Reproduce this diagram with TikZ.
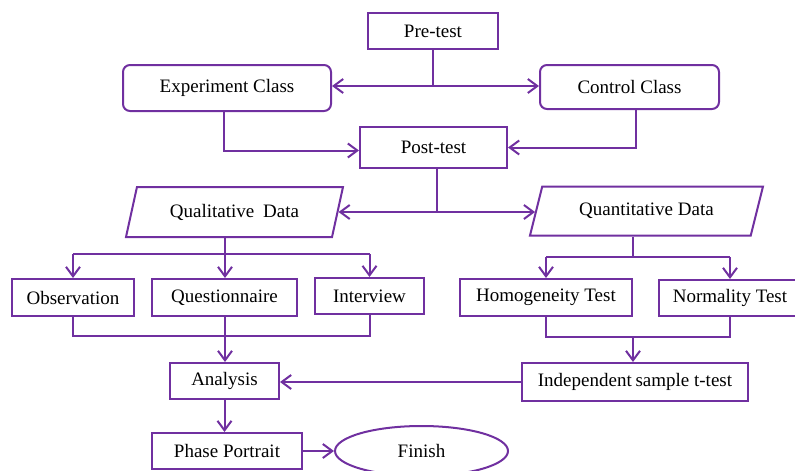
\documentclass[tikz,border=0pt]{standalone}
\usepackage{fontspec}
\setmainfont{Liberation Serif}
\usetikzlibrary{arrows.meta,shapes.geometric}
\definecolor{vio}{HTML}{7030A0}
\begin{document}
\begin{tikzpicture}[x=1pt,y=-1pt,
  line/.style={draw=vio,line width=2pt},
  arr/.style={line,-{Straight Barb[length=9.5pt,width=14pt]}},
  box/.style={draw=vio,line width=2pt,rectangle,inner sep=0pt,
    font=\fontsize{19}{22}\selectfont,text=black},
  rbox/.style={box,rounded corners=7pt},
  para/.style={box,trapezium,trapezium stretches body},
  term/.style={box,ellipse}
]
\useasboundingbox (0,0) rectangle (795,471);

\node[box,minimum width=130pt,minimum height=36pt] (pre) at (433,31) {Pre-test};
\node[rbox,minimum width=208pt,minimum height=46pt] (exp) at (227,88) {Experiment Class};
\node[rbox,minimum width=179pt,minimum height=44pt] (ctrl) at (629.5,87) {Control Class};
\node[box,minimum width=147pt,minimum height=41pt] (post) at (433.5,147.5) {Post-test};
\node[para,trapezium left angle=56,trapezium right angle=124,
      minimum width=217pt,minimum height=50pt] (qual) at (234.5,212) {Qualitative\hspace{4pt} Data};
\node[para,trapezium left angle=52,trapezium right angle=128,
      minimum width=233pt,minimum height=49pt] (quant) at (646.5,211) {Quantitative Data};
\node[box,minimum width=122pt,minimum height=37pt] (obs) at (73,297.5) {Observation};
\node[box,minimum width=145pt,minimum height=37pt] (ques) at (224.5,297.5) {Questionnaire};
\node[box,minimum width=109pt,minimum height=36pt] (intv) at (369.5,296) {Interview};
\node[box,minimum width=172pt,minimum height=37pt] (homog) at (546,297.5) {Homogeneity Test};
\node[box,minimum width=142pt,minimum height=36pt] (norm) at (730,298) {Normality Test};
\node[box,minimum width=109pt,minimum height=36pt] (anal) at (224.5,381) {Analysis};
\node[box,minimum width=226pt,minimum height=38pt] (indep) at (635,382) {Independent\hspace{-1pt} sample t-test};
\node[box,minimum width=150pt,minimum height=36pt] (phase) at (227,451) {Phase Portrait};
\node[term,minimum width=173pt,minimum height=50pt] (fin) at (421.5,451) {Finish};

% pre-test to classes
\coordinate (j1) at (433,86);
\draw[line] (pre.south) -- (j1);
\draw[arr] (j1) -- (j1 -| exp.east);
\draw[arr] (j1) -- (j1 -| ctrl.west);
% classes to post-test
\draw[arr] ([xshift=-3pt]exp.south) |- ([yshift=-3pt]post.west);
\draw[arr] ([xshift=6.5pt]ctrl.south) |- (post.east);
% post-test to data
\coordinate (j2) at (437,212);
\draw[line] (post.south -| j2) -- (j2);
\draw[arr] (j2) -- (j2 -| qual.east);
\draw[arr] (j2) -- (j2 -| quant.west);
% qualitative branches
\coordinate (j3) at (225,254);
\draw[line] (qual.south -| j3) -- (j3);
\draw[line] (j3 -| obs) -- (j3 -| intv);
\draw[arr] (j3 -| obs) -- (obs.north);
\draw[arr] (j3) -- (j3 |- ques.north);
\draw[arr] (j3 -| intv) -- (intv.north);
% qualitative merge
\coordinate (j4) at (225,336);
\draw[line] (obs.south) -- (obs.south |- j4) -- (intv.south |- j4) -- (intv.south);
\draw[arr] (ques.south -| j4) -- (j4 |- anal.north);
% quantitative branches
\coordinate (j5) at (633,257);
\draw[line] (quant.south -| j5) -- (j5);
\draw[line] (j5 -| homog) -- (j5 -| norm);
\draw[arr] (j5 -| homog) -- (homog.north);
\draw[arr] (j5 -| norm) -- (norm.north);
% quantitative merge
\coordinate (j6) at (633,337);
\draw[line] (homog.south) |- (j6) -| (norm.south);
\draw[arr] (j6) -- (j6 |- indep.north);
% to analysis and finish
\draw[arr] (indep.west) -- (indep.west -| anal.east);
\draw[arr] (anal.south) -- (anal.south |- phase.north);
\draw[arr] (phase.east) -- (fin.west);
\end{tikzpicture}
\end{document}
